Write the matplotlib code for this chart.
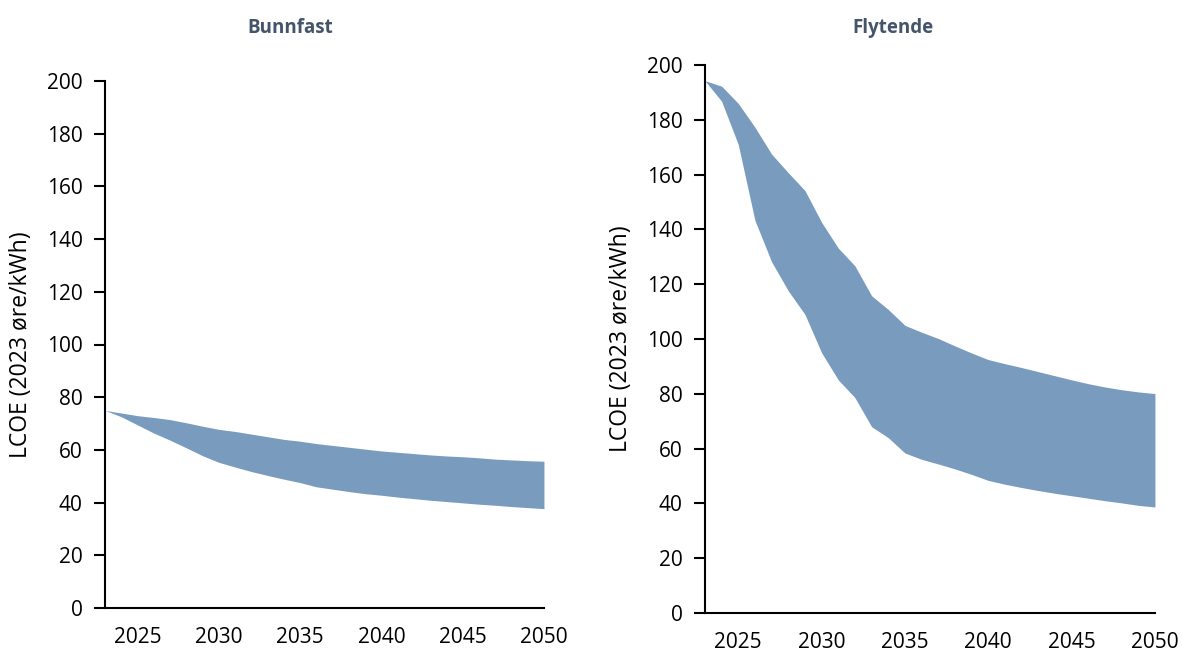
import matplotlib.pyplot as plt

years = list(range(2023, 2051))

# Bunnfast (bottom-fixed) range
bunnfast_high = [75, 74, 73, 72.3, 71.5, 70.3, 69, 67.8, 67, 66, 65, 64, 63.3, 62.4,
                 61.7, 61, 60.3, 59.6, 59.1, 58.6, 58.1, 57.7, 57.4, 57, 56.5, 56.2, 55.9, 55.7]
bunnfast_low = [75, 72.6, 69.5, 66.4, 63.7, 60.8, 57.8, 55.3, 53.5, 51.8, 50.3, 48.9, 47.6, 46,
                45.1, 44.2, 43.4, 42.8, 42.1, 41.5, 40.9, 40.4, 39.9, 39.4, 39, 38.5, 38.1, 37.7]

# Flytende (floating) range
flytende_high = [194.3, 192.3, 186, 177.3, 167.5, 160.7, 154.2, 142.6, 133.2, 126.7, 115.8, 110.8,
                 105, 102.5, 100.2, 97.5, 94.9, 92.5, 91, 89.6, 88.1, 86.6, 85.1, 83.7, 82.5,
                 81.5, 80.7, 80.1]
flytende_low = [194.3, 186.8, 171, 143.3, 128.2, 117.6, 109, 95, 85.1, 78.6, 68, 64, 58.4, 56.1,
                54.4, 52.6, 50.6, 48.4, 47, 45.8, 44.7, 43.7, 42.8, 41.9, 41, 40.2, 39.3, 38.7]

titles = ["Bunnfast", "Flytende"]
xticks = [2025, 2030, 2035, 2040, 2045, 2050]
yticks = list(range(0, 201, 20))

plt.rcParams['font.family'] = ['Open Sans', 'DejaVu Sans']

fig = plt.figure(figsize=(11.82, 6.5), dpi=100)
ax1 = fig.add_axes([0.0888, 0.0646, 0.3714, 0.8108])
ax2 = fig.add_axes([0.5964, 0.0569, 0.3807, 0.843])

band_color = "#789BBE"
panels = [(ax1, bunnfast_low, bunnfast_high), (ax2, flytende_low, flytende_high)]

for ax, low, high in panels:
    ax.fill_between(years, low, high, color=band_color, linewidth=0)
    ax.set_xlim(2023, 2050)
    ax.set_ylim(0, 200)
    ax.set_xticks(xticks)
    ax.set_yticks(yticks)
    ax.spines['top'].set_visible(False)
    ax.spines['right'].set_visible(False)
    ax.spines['left'].set_linewidth(1.5)
    ax.spines['bottom'].set_linewidth(1.5)
    ax.tick_params(axis='y', direction='out', length=8, width=1.5, labelsize=15, pad=8)
    ax.tick_params(axis='x', length=0, labelsize=15, pad=14)
    ax.set_ylabel("LCOE (2023 øre/kWh)", fontsize=16.5, labelpad=10)

fig.text(290 / 1182, 1 - 28 / 650, titles[0], ha='center', va='center',
         fontsize=13.5, fontweight='bold', color="#44546A")
fig.text(893 / 1182, 1 - 28 / 650, titles[1], ha='center', va='center',
         fontsize=13.5, fontweight='bold', color="#44546A")

fig.savefig("out.png", dpi=100)
